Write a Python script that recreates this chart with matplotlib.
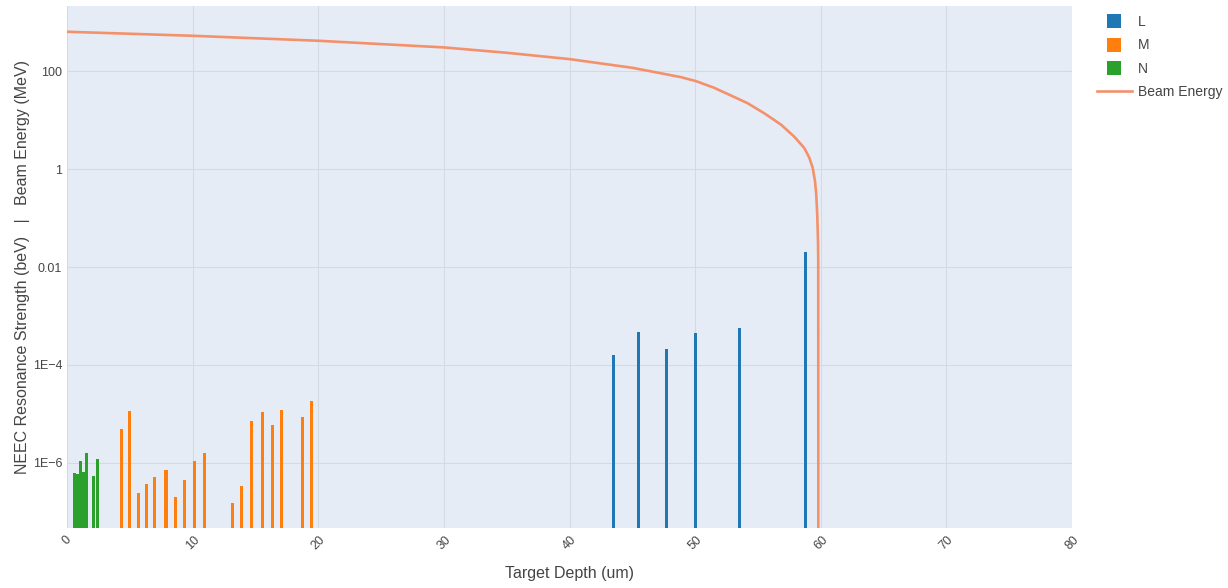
import matplotlib
matplotlib.use("Agg")
import matplotlib.pyplot as plt
from matplotlib.lines import Line2D
import numpy as np

plt.rcParams['font.family'] = ['Liberation Sans', 'DejaVu Sans']

# NEEC resonance strengths (beV) by shell, positioned at target depth (um)
l_depth = [43.5, 45.5, 47.7, 50.0, 53.5, 58.8]
l_strength = [1.63e-4, 4.6e-4, 2.13e-4, 4.5e-4, 5.8e-4, 2.06e-2]

m_depth = [4.37, 4.97, 5.67, 6.29, 6.95, 7.88, 8.62, 9.39, 10.18, 10.92,
           13.17, 13.89, 14.68, 15.58, 16.35, 17.06, 18.73, 19.47]
m_strength = [4.9e-6, 1.17e-5, 2.4e-7, 3.7e-7, 5.2e-7, 7.2e-7, 2.0e-7, 4.5e-7,
              1.09e-6, 1.62e-6, 1.53e-7, 3.3e-7, 7.3e-6, 1.08e-5, 5.8e-6,
              1.21e-5, 8.8e-6, 1.87e-5]

n_depth = [0.63, 0.84, 1.11, 1.31, 1.58, 2.11, 2.40]
n_strength = [6.2e-7, 5.9e-7, 1.07e-6, 6.6e-7, 1.56e-6, 5.4e-7, 1.22e-6]

# Beam energy (MeV) as the beam slows down in the target
beam_depth = [0, 10, 20, 30, 35, 40, 45, 48.86, 50.08, 51.51, 52.85, 54.18,
              55.5, 56.83, 57.89, 58.69, 59.08, 59.35, 59.54, 59.64, 59.72,
              59.78, 59.80, 59.81]
beam_energy = [637, 527, 417, 305, 237, 176, 117, 75.4, 62.4, 45.7, 31.8,
               22.1, 13.8, 8.1, 4.59, 2.69, 1.73, 1.08, 0.575, 0.307, 0.120,
               0.034, 0.0132, 1e-9]

x_ticks = [0, 10, 20, 30, 40, 50, 60, 70, 80]
y_ticks = [1e2, 1, 1e-2, 1e-4, 1e-6]
y_tick_labels = ['100', '1', '0.01', '1E\u22124', '1E\u22126']

C_L, C_M, C_N, C_BEAM = '#1f77b4', '#ff7f0e', '#2ca02c', '#f4916b'
BG = '#e5ecf6'
GRID = '#d3dae4'
TXT = '#444444'

fig = plt.figure(figsize=(12.28, 5.88), dpi=100)
ax = fig.add_axes([67 / 1228, 1 - 528 / 588, (1072 - 67) / 1228, (528 - 6) / 588])
ax.set_facecolor(BG)
ax.set_yscale('log')

bar_w = 0.24
base = 1e-10
for depth, strength, col in [(n_depth, n_strength, C_N),
                             (m_depth, m_strength, C_M),
                             (l_depth, l_strength, C_L)]:
    ax.bar(depth, np.array(strength) - base, bottom=base, width=bar_w,
           color=col, linewidth=0, zorder=3)

ax.plot(beam_depth, beam_energy, color=C_BEAM, lw=1.9, zorder=4,
        solid_joinstyle='round')

ax.set_xlim(0, 80)
ax.set_ylim(10 ** -7.33, 10 ** 3.33)
ax.set_xticks(x_ticks)
ax.set_xticklabels([str(t) for t in x_ticks], rotation=45, ha='center',
                   va='top', color=TXT, fontsize=9)
ax.set_yticks(y_ticks)
ax.set_yticklabels(y_tick_labels, color=TXT, fontsize=9)
ax.yaxis.set_minor_locator(matplotlib.ticker.NullLocator())
ax.tick_params(length=0)
ax.tick_params(axis='y', pad=3.5)
ax.tick_params(axis='x', pad=4)
ax.grid(True, color=GRID, lw=0.75, zorder=0)
ax.set_axisbelow(True)
for s in ax.spines.values():
    s.set_visible(False)

ax.set_xlabel('Target Depth (um)', color=TXT, fontsize=11.5, labelpad=10)
ax.set_ylabel('NEEC Resonance Strength (beV)   |   Beam Energy (MeV)',
              color=TXT, fontsize=11.5, labelpad=2)

handles = [
    Line2D([], [], marker='s', ls='none', color=C_L, markersize=9.5, mew=0),
    Line2D([], [], marker='s', ls='none', color=C_M, markersize=9.5, mew=0),
    Line2D([], [], marker='s', ls='none', color=C_N, markersize=9.5, mew=0),
    Line2D([], [], color=C_BEAM, lw=1.9),
]
leg = fig.legend(handles, ['L', 'M', 'N', 'Beam Energy'],
                 loc='upper left', bbox_to_anchor=(1097 / 1228, 1 - 15 / 588),
                 frameon=False, fontsize=10, handlelength=2.5,
                 handletextpad=0.43, labelspacing=0.68, borderaxespad=0,
                 borderpad=0)
for t in leg.get_texts():
    t.set_color(TXT)

fig.savefig('out.png', dpi=100, facecolor='white')
